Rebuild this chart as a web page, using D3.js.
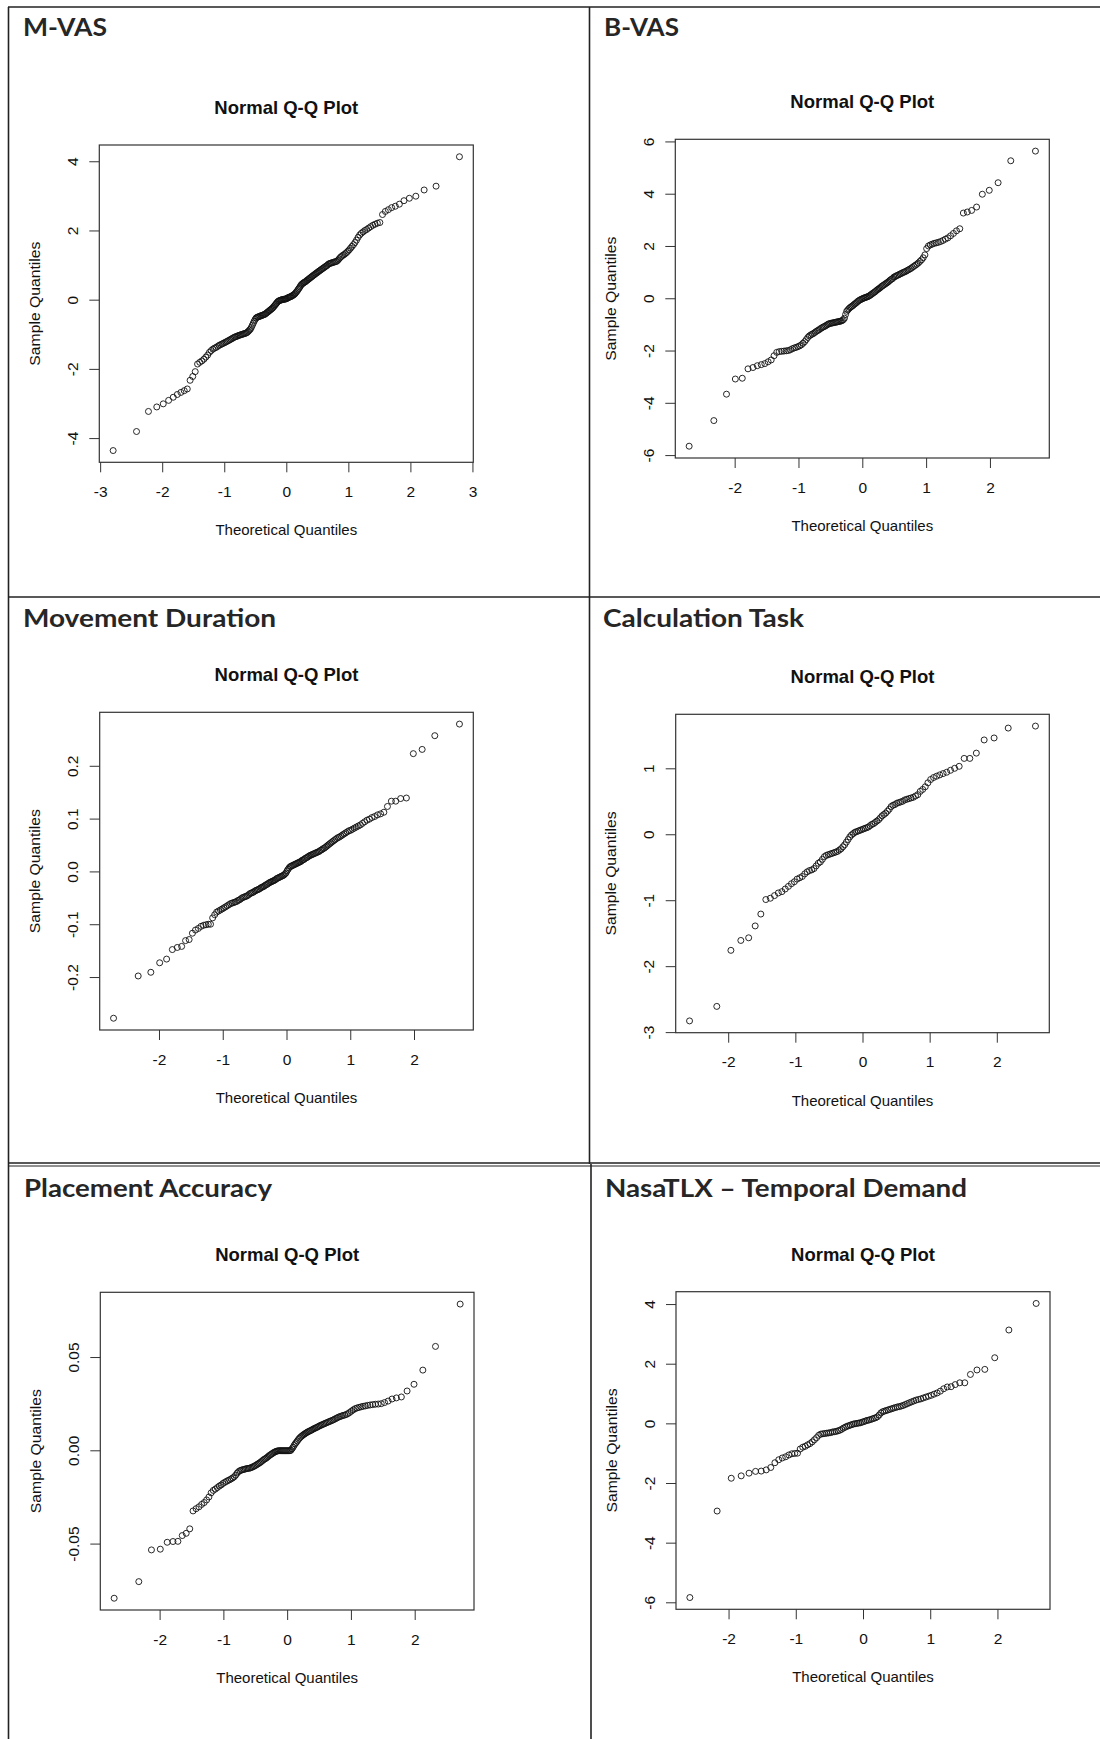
<!DOCTYPE html>
<html>
<head>
<meta charset="utf-8">
<script src="https://cdn.jsdelivr.net/npm/d3@7"></script>
<style>
	body { margin: 0; background: #fff; }
	svg { display: block; }
</style>
</head>
<body>
<svg id="chart" width="1100" height="1739"></svg>
<script>
// sorted sample values
var mvasValues = [
	-4.36, -3.81, -3.23, -3.10, -3.01, -2.91, -2.82, -2.74, -2.68, -2.63,
	-2.58, -2.33, -2.22, -2.08, -1.86, -1.81, -1.77, -1.72, -1.66, -1.60,
	-1.52, -1.47, -1.43, -1.40, -1.38, -1.35, -1.32, -1.30, -1.28, -1.26,
	-1.24, -1.22, -1.20, -1.18, -1.16, -1.14, -1.12, -1.10, -1.08, -1.07,
	-1.06, -1.04, -1.03, -1.02, -1.01, -1.00, -0.99, -0.98, -0.97, -0.96,
	-0.94, -0.91, -0.88, -0.85, -0.80, -0.74, -0.68, -0.62, -0.57, -0.53,
	-0.51, -0.50, -0.49, -0.48, -0.47, -0.46, -0.45, -0.44, -0.43, -0.42,
	-0.40, -0.38, -0.36, -0.34, -0.32, -0.30, -0.28, -0.26, -0.24, -0.21,
	-0.18, -0.15, -0.12, -0.09, -0.06, -0.04, -0.03, -0.02, -0.01, 0.00,
	0.00, 0.01, 0.01, 0.02, 0.02,
	0.03, 0.05, 0.06, 0.07, 0.08, 0.09, 0.10, 0.12, 0.13, 0.15,
	0.17, 0.20, 0.23, 0.26, 0.30, 0.33, 0.37, 0.41, 0.44, 0.46,
	0.48, 0.50, 0.51, 0.53, 0.55, 0.57, 0.59, 0.61, 0.63, 0.65,
	0.67, 0.69, 0.71, 0.73, 0.75, 0.77, 0.79, 0.81, 0.83, 0.85,
	0.87, 0.89, 0.91, 0.93, 0.95, 0.97, 0.99, 1.02, 1.04, 1.05,
	1.06, 1.07, 1.08, 1.09, 1.10, 1.11, 1.14, 1.18, 1.22, 1.25,
	1.28, 1.30, 1.33, 1.36, 1.40, 1.44, 1.49, 1.54, 1.59, 1.65,
	1.72, 1.80, 1.87, 1.92, 1.96, 2.00, 2.03, 2.07, 2.11, 2.15,
	2.18, 2.21, 2.23, 2.46, 2.55, 2.60, 2.66, 2.70, 2.76, 2.86,
	2.93, 2.99, 3.17, 3.28, 4.13
];

var bvasValues = [
	-5.66, -4.68, -3.67, -3.09, -3.06, -2.70, -2.65, -2.58, -2.54, -2.50,
	-2.43, -2.36, -2.20, -2.07, -2.04, -2.03, -2.02, -2.01, -2.00, -1.97,
	-1.93, -1.90, -1.88, -1.85, -1.82, -1.78, -1.72, -1.66, -1.58, -1.50,
	-1.44, -1.40, -1.37, -1.34, -1.30, -1.26, -1.23, -1.20, -1.16, -1.13,
	-1.10, -1.08, -1.05, -1.02, -0.99, -0.97, -0.96, -0.95, -0.94, -0.93,
	-0.92, -0.91, -0.90, -0.89, -0.88, -0.87, -0.85, -0.82, -0.76, -0.62,
	-0.50, -0.45, -0.40, -0.36, -0.33, -0.30, -0.27, -0.23, -0.20, -0.17,
	-0.13, -0.10, -0.07, -0.05, -0.03,
	-0.01, 0.01, 0.02, 0.04, 0.05, 0.07, 0.09, 0.12, 0.15, 0.18,
	0.21, 0.24, 0.27, 0.31, 0.34, 0.37, 0.40, 0.44, 0.47, 0.50,
	0.53, 0.56, 0.59, 0.62, 0.66, 0.70, 0.73, 0.76, 0.81, 0.83,
	0.86, 0.88, 0.90, 0.93, 0.95, 0.98, 1.00, 1.02, 1.05, 1.08,
	1.11, 1.14, 1.18, 1.22, 1.26, 1.30, 1.35, 1.41, 1.47, 1.55,
	1.66, 1.90, 2.00, 2.04, 2.07, 2.10, 2.12, 2.14, 2.17, 2.21,
	2.26, 2.31, 2.39, 2.48, 2.58, 2.66, 3.26, 3.30, 3.36, 3.49,
	3.98, 4.13, 4.42, 5.26, 5.63
];

var durationValues = [
	-0.278, -0.198, -0.191, -0.173, -0.166, -0.148, -0.144, -0.142, -0.131, -0.129,
	-0.117, -0.111, -0.108, -0.104, -0.102, -0.101, -0.100, -0.100, -0.088, -0.082,
	-0.077, -0.075, -0.073, -0.071, -0.069, -0.067, -0.065, -0.063, -0.061, -0.060,
	-0.059, -0.058, -0.057, -0.055, -0.054, -0.052, -0.050, -0.049, -0.048, -0.047,
	-0.046, -0.044, -0.042, -0.041, -0.040, -0.039, -0.037, -0.036, -0.035, -0.034,
	-0.033, -0.031, -0.030, -0.029, -0.028, -0.026, -0.025, -0.024, -0.022, -0.021,
	-0.020, -0.019, -0.018, -0.017, -0.016, -0.014, -0.013, -0.012, -0.011, -0.010,
	-0.009, -0.008, -0.007, -0.005, -0.003,
	0.001, 0.004, 0.007, 0.009, 0.010, 0.011, 0.012, 0.013, 0.014, 0.015,
	0.016, 0.017, 0.018, 0.019, 0.021, 0.022, 0.023, 0.025, 0.026, 0.027,
	0.029, 0.030, 0.031, 0.032, 0.033, 0.034, 0.035, 0.036, 0.037, 0.038,
	0.040, 0.041, 0.043, 0.044, 0.046, 0.048, 0.050, 0.052, 0.054, 0.056,
	0.058, 0.060, 0.062, 0.064, 0.065, 0.067, 0.069, 0.071, 0.073, 0.075,
	0.077, 0.078, 0.080, 0.082, 0.084, 0.086, 0.088, 0.091, 0.094, 0.097,
	0.099, 0.102, 0.104, 0.107, 0.109, 0.112, 0.123, 0.133, 0.133, 0.138,
	0.139, 0.223, 0.231, 0.257, 0.279
];

var calcValues = [
	-2.83, -2.61, -1.76, -1.61, -1.57, -1.39, -1.21, -0.99, -0.97, -0.93,
	-0.89, -0.87, -0.83, -0.79, -0.75, -0.72, -0.68, -0.66, -0.64, -0.60,
	-0.57, -0.55, -0.54, -0.52, -0.48, -0.44, -0.42, -0.38, -0.34, -0.32,
	-0.31, -0.30, -0.29, -0.28, -0.27, -0.26, -0.24, -0.22, -0.19, -0.16,
	-0.12, -0.08, -0.04, -0.01, 0.01, 0.03, 0.04, 0.05, 0.06, 0.07,
	0.08, 0.09, 0.10, 0.11, 0.13, 0.15, 0.16, 0.18, 0.20, 0.22,
	0.25, 0.28, 0.30, 0.32, 0.35, 0.38, 0.42, 0.44, 0.45, 0.47,
	0.48, 0.49, 0.50, 0.52, 0.53, 0.54, 0.55, 0.56, 0.58, 0.60,
	0.65, 0.68, 0.72, 0.78, 0.83, 0.86, 0.88, 0.90, 0.92, 0.94,
	0.97, 1.00, 1.03, 1.15, 1.15, 1.23, 1.43, 1.46, 1.61, 1.64
];

var placementValues = [
	-0.0793, -0.0704, -0.0534, -0.0530, -0.0493, -0.0489, -0.0488, -0.0457, -0.0445, -0.0421,
	-0.0325, -0.0313, -0.0303, -0.0290, -0.0280, -0.0266, -0.0250, -0.0228, -0.0215, -0.0208,
	-0.0200, -0.0192, -0.0186, -0.0178, -0.0172, -0.0167, -0.0162, -0.0158, -0.0153, -0.0148,
	-0.0142, -0.0133, -0.0122, -0.0114, -0.0109, -0.0106, -0.0104, -0.0102, -0.0100, -0.0098,
	-0.0097, -0.0096, -0.0094, -0.0091, -0.0088, -0.0085, -0.0081, -0.0077, -0.0073, -0.0069,
	-0.0065, -0.0060, -0.0055, -0.0050, -0.0046, -0.0043, -0.0038, -0.0033, -0.0028, -0.0024,
	-0.0020, -0.0016, -0.0012, -0.0009, -0.0006, -0.0004, -0.0003, -0.0002, -0.0002, -0.0002,
	-0.0002, -0.0002, -0.0002, -0.0002, -0.0002,
	-0.0002, -0.0002, -0.0002, 0.0000, 0.0008, 0.0016, 0.0026, 0.0035, 0.0042, 0.0050,
	0.0058, 0.0065, 0.0071, 0.0076, 0.0081, 0.0085, 0.0089, 0.0093, 0.0097, 0.0100,
	0.0103, 0.0106, 0.0109, 0.0113, 0.0116, 0.0119, 0.0122, 0.0125, 0.0129, 0.0132,
	0.0135, 0.0138, 0.0141, 0.0144, 0.0147, 0.0150, 0.0153, 0.0156, 0.0159, 0.0162,
	0.0166, 0.0170, 0.0174, 0.0178, 0.0181, 0.0184, 0.0187, 0.0189, 0.0192, 0.0197,
	0.0203, 0.0210, 0.0217, 0.0223, 0.0227, 0.0230, 0.0233, 0.0236, 0.0238, 0.0241,
	0.0243, 0.0245, 0.0247, 0.0248, 0.0250, 0.0256, 0.0264, 0.0275, 0.0281, 0.0286,
	0.0318, 0.0354, 0.0430, 0.0557, 0.0784
];

var nasaValues = [
	-5.84, -2.94, -1.84, -1.76, -1.67, -1.61, -1.60, -1.56, -1.48, -1.32,
	-1.22, -1.16, -1.12, -1.06, -1.02, -1.01, -1.00, -0.86, -0.80, -0.77,
	-0.72, -0.68, -0.62, -0.55, -0.48, -0.40, -0.36, -0.35, -0.34, -0.33,
	-0.32, -0.31, -0.29, -0.28, -0.27, -0.25, -0.23, -0.20, -0.16, -0.13,
	-0.10, -0.08, -0.06, -0.04, -0.02, -0.01, 0.00, 0.01, 0.02, 0.04,
	0.06, 0.08, 0.10, 0.11, 0.13, 0.15, 0.17, 0.19, 0.22, 0.28,
	0.35, 0.39, 0.41, 0.43, 0.45, 0.47, 0.49, 0.51, 0.53, 0.55,
	0.56, 0.58, 0.60, 0.63, 0.66, 0.69, 0.72, 0.75, 0.78, 0.80,
	0.82, 0.85, 0.88, 0.91, 0.94, 0.98, 1.02, 1.08, 1.16, 1.22,
	1.23, 1.30, 1.36, 1.36, 1.64, 1.79, 1.81, 2.20, 3.13, 4.02
];

var panelTitles = ['M-VAS', 'B-VAS', 'Movement Duration', 'Calculation Task', 'Placement Accuracy', 'NasaTLX \u2013 Temporal Demand'];

// tick values and their labels, as R printed them
var mvasXTicks = [-3, -2, -1, 0, 1, 2, 3];
var xTicks = [-2, -1, 0, 1, 2];
var mvasYTicks = [-4, -2, 0, 2, 4];
var bvasYTicks = [-6, -4, -2, 0, 2, 4, 6];
var durationYTicks = [-0.2, -0.1, 0, 0.1, 0.2];
var durationYLabels = ['-0.2', '-0.1', '0.0', '0.1', '0.2'];
var calcYTicks = [-3, -2, -1, 0, 1];
var placementYTicks = [-0.05, 0, 0.05];
var placementYLabels = ['-0.05', '0.00', '0.05'];
var nasaYTicks = [-6, -4, -2, 0, 2, 4];

var svg = d3.select('#chart');

var rFont = '"Liberation Sans", Arial, sans-serif',
	headFont = 'Lato, "Open Sans", sans-serif';

// inverse normal cdf (Acklam)
var qnorm = function(p) {
	var a = [-3.969683028665376e+01, 2.209460984245205e+02, -2.759285104469687e+02, 1.383577518672690e+02, -3.066479806614716e+01, 2.506628277459239e+00],
	b = [-5.447609879822406e+01, 1.615858368580409e+02, -1.556989798598866e+02, 6.680131188771972e+01, -1.328068155288572e+01],
	c = [-7.784894002430293e-03, -3.223964580411365e-01, -2.400758277161838e+00, -2.549732539343734e+00, 4.374664141464968e+00, 2.938163982698783e+00],
	d = [7.784695709041462e-03, 3.224671290700398e-01, 2.445134137142996e+00, 3.754408661907416e+00],
	pl = 0.02425, q, r;

	if (p < pl) {
		q = Math.sqrt(-2 * Math.log(p));
		return (((((c[0]*q+c[1])*q+c[2])*q+c[3])*q+c[4])*q+c[5]) / ((((d[0]*q+d[1])*q+d[2])*q+d[3])*q+1);
	}
	if (p > 1 - pl) {
		q = Math.sqrt(-2 * Math.log(1 - p));
		return -(((((c[0]*q+c[1])*q+c[2])*q+c[3])*q+c[4])*q+c[5]) / ((((d[0]*q+d[1])*q+d[2])*q+d[3])*q+1);
	}
	q = p - 0.5;
	r = q * q;
	return (((((a[0]*r+a[1])*r+a[2])*r+a[3])*r+a[4])*r+a[5])*q / (((((b[0]*r+b[1])*r+b[2])*r+b[3])*r+b[4])*r+1);
};

// same as R ppoints()
var ppoints = function(n) {
	var a = n <= 10 ? 3 / 8 : 0.5;
	return d3.range(1, n + 1).map(function(i) { return (i - a) / (n + 1 - 2 * a); });
};

var expand = function(ext) {
	var pad = (ext[1] - ext[0]) * 0.04;
	return [ext[0] - pad, ext[1] + pad];
};

var panels = [
	{title: panelTitles[0], tx: 23, ty: 36, tw: 84, values: mvasValues, xt: mvasXTicks, yt: mvasYTicks, box: [99.3, 145, 473.3, 462.3]},
	{title: panelTitles[1], tx: 604, ty: 36, tw: 75, values: bvasValues, xt: xTicks, yt: bvasYTicks, box: [675.3, 139.3, 1049.3, 458]},
	{title: panelTitles[2], tx: 23, ty: 627, tw: 253, values: durationValues, xt: xTicks, yt: durationYTicks, yl: durationYLabels, box: [99.7, 712.3, 473.3, 1030]},
	{title: panelTitles[3], tx: 603, ty: 627, tw: 201, values: calcValues, xt: xTicks, yt: calcYTicks, box: [675.7, 714.3, 1049.3, 1032.7]},
	{title: panelTitles[4], tx: 24, ty: 1197, tw: 248, values: placementValues, xt: xTicks, yt: placementYTicks, yl: placementYLabels, box: [100.3, 1292.3, 474, 1610]},
	{title: panelTitles[5], tx: 605, ty: 1197, tw: 362, values: nasaValues, xt: xTicks, yt: nasaYTicks, box: [676, 1291.7, 1050, 1609.3]}
];

// table frame round the six cells
var frame = svg.append('g').attr('stroke', '#222').attr('stroke-width', 1.6);
frame.append('line').attr('x1', 8).attr('x2', 1100).attr('y1', 7).attr('y2', 7);
frame.append('line').attr('x1', 8.5).attr('x2', 8.5).attr('y1', 7).attr('y2', 1739);
frame.append('line').attr('x1', 589.5).attr('x2', 589.5).attr('y1', 7).attr('y2', 1164);
frame.append('line').attr('x1', 591).attr('x2', 591).attr('y1', 1164).attr('y2', 1739);
frame.append('line').attr('x1', 8).attr('x2', 1100).attr('y1', 597).attr('y2', 597);
frame.append('line').attr('x1', 8).attr('x2', 1100).attr('y1', 1163).attr('y2', 1163);
frame.append('line').attr('x1', 8).attr('x2', 1100).attr('y1', 1166).attr('y2', 1166).attr('stroke-width', 1);

var drawPanel = function(p) {
	var b = p.box,
	n = p.values.length,
	theo = ppoints(n).map(qnorm),
	sorted = p.values.slice().sort(d3.ascending),
	pts = sorted.map(function(v, i) { return {t: theo[i], v: v}; }),
	cx = (b[0] + b[2]) / 2,
	cy = (b[1] + b[3]) / 2;

	var x = d3.scaleLinear().domain(expand(d3.extent(theo))).range([b[0], b[2]]),
	y = d3.scaleLinear().domain(expand(d3.extent(sorted))).range([b[3], b[1]]);

	var g = svg.append('g');

	// cell heading
	g.append('text')
	.attr('x', p.tx).attr('y', p.ty)
	.attr('textLength', p.tw).attr('lengthAdjust', 'spacingAndGlyphs')
	.style('font-family', headFont).style('font-weight', 700).style('font-size', '25px')
	.attr('fill', '#262626')
	.text(p.title);

	g.append('text')
	.attr('x', cx).attr('y', b[1] - 31)
	.attr('text-anchor', 'middle')
	.style('font-family', rFont).style('font-weight', 700).style('font-size', '18.5px')
	.attr('fill', '#111')
	.text('Normal Q-Q Plot');

	var gx = g.append('g')
	.attr('transform', 'translate(0,' + b[3] + ')')
	.call(d3.axisBottom(x).tickValues(p.xt).tickFormat(function(d) { return String(d); })
		.tickSize(10).tickPadding(13.5).tickSizeOuter(0));
	gx.select('.domain').remove();

	var gy = g.append('g')
	.attr('transform', 'translate(' + b[0] + ',0)')
	.call(d3.axisLeft(y).tickValues(p.yt)
		.tickFormat(function(d, i) { return p.yl ? p.yl[i] : String(d); })
		.tickSize(10).tickSizeOuter(0));
	gy.select('.domain').remove();
	gy.selectAll('.tick text')
	.attr('x', null).attr('dy', null)
	.attr('text-anchor', 'middle')
	.attr('transform', 'translate(-21.5,0) rotate(-90)');

	[gx, gy].forEach(function(a) {
		a.attr('font-family', null).attr('font-size', null)
		.style('font-family', rFont).style('font-size', '15.5px')
		.attr('color', '#333');
		a.selectAll('.tick text').attr('fill', '#111');
	});

	g.append('text')
	.attr('x', cx).attr('y', b[3] + 73)
	.attr('text-anchor', 'middle')
	.style('font-family', rFont).style('font-size', '15px')
	.attr('fill', '#111')
	.text('Theoretical Quantiles');

	g.append('text')
	.attr('transform', 'translate(' + (b[0] - 59.5) + ',' + cy + ') rotate(-90)')
	.attr('text-anchor', 'middle')
	.attr('textLength', 124).attr('lengthAdjust', 'spacingAndGlyphs')
	.style('font-family', rFont).style('font-size', '15px')
	.attr('fill', '#111')
	.text('Sample Quantiles');

	g.append('rect')
	.attr('x', b[0]).attr('y', b[1])
	.attr('width', b[2] - b[0]).attr('height', b[3] - b[1])
	.attr('fill', 'none').attr('stroke', '#333').attr('stroke-width', 1.2);

	g.append('g').selectAll('circle')
	.data(pts)
	.enter().append('circle')
	.attr('cx', function(d) { return x(d.t); })
	.attr('cy', function(d) { return y(d.v); })
	.attr('r', 3)
	.attr('fill', 'none')
	.attr('stroke', '#111')
	.attr('stroke-width', 0.9);
};

panels.forEach(drawPanel);
</script>
</body>
</html>
